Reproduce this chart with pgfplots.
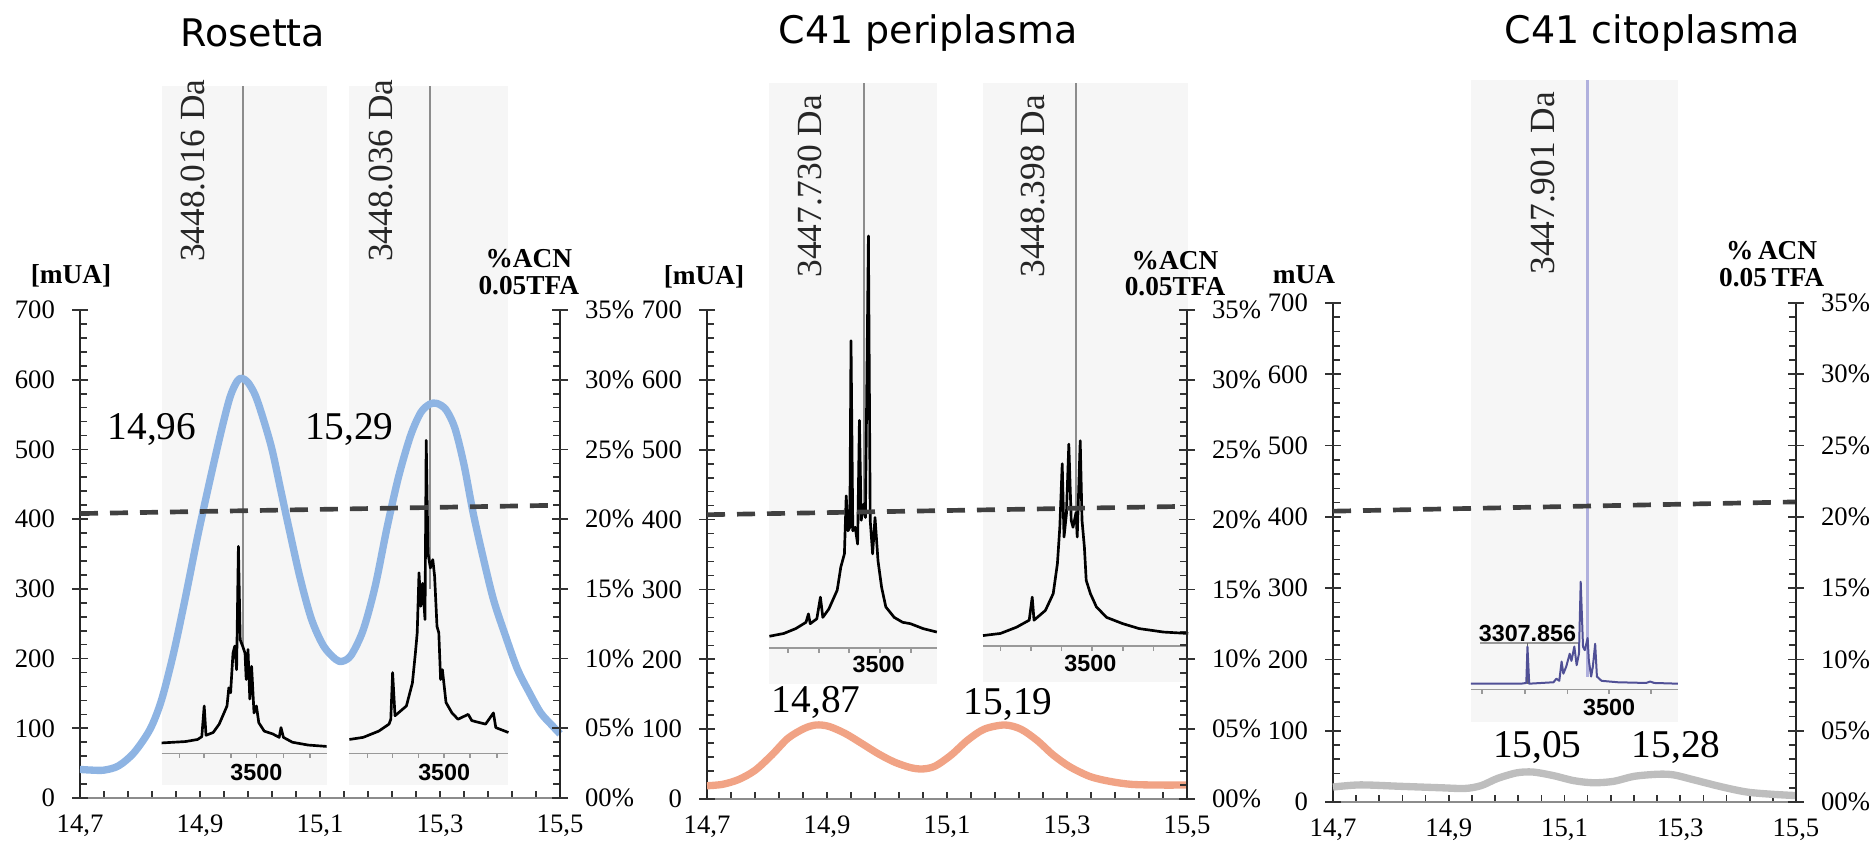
\documentclass[border=0pt]{standalone}
\usepackage{fontspec}
\setmainfont{Liberation Serif}
\newfontfamily\titlefont{DejaVu Sans}
\newfontfamily\sansb{Liberation Sans}
\usepackage{pgfplots}
\pgfplotsset{compat=1.18}

\definecolor{cblue}{RGB}{142,180,227}
\definecolor{corange}{RGB}{241,163,133}
\definecolor{cgray}{RGB}{190,190,190}
\definecolor{boxgray}{RGB}{246,246,246}
\definecolor{specblue}{RGB}{80,80,150}
\definecolor{mainlav}{RGB}{176,176,221}

\newcommand{\tickf}{\fontsize{8}{9}\selectfont}
\newcommand{\peakf}{\fontsize{11.8}{13}\selectfont}
\newcommand{\daf}{\fontsize{10.6}{12}\selectfont}
\newcommand{\unitf}{\bfseries\fontsize{8.2}{8}\selectfont}
\newcommand{\msf}{\sansb\bfseries\fontsize{7}{8}\selectfont}

\pgfplotsset{
  panel/.style={
    scale only axis, clip=false,
    xmin=14.7, xmax=15.5, ymin=0, ymax=700,
    axis x line*=bottom, axis y line*=left,
    xtick={14.7,14.9,15.1,15.3,15.5},
    xticklabels={{14,7},{14,9},{15,1},{15,3},{15,5}},
    minor x tick num=4,
    ytick={0,100,...,700},
    minor y tick num=4,
    tick align=inside,
    major tick length=2.2pt, minor tick length=2.2pt,
    extra y ticks={0,100,200,300,400,500,600,700},
    extra y tick labels={},
    extra y tick style={tick align=center, major tick length=4.7pt},
    x axis line style={black!45, line width=0.6pt},
    y axis line style={black!85, line width=0.6pt},
    tick style={black!80, line width=0.5pt},
    ticklabel style={font=\tickf},
    yticklabel style={xshift=-4pt},
    xticklabel style={yshift=-1.5pt},
    /pgf/number format/assume math mode=true,
    unbounded coords=jump,
  },
  rpanel/.style={
    scale only axis,
    xmin=14.7, xmax=15.5, ymin=0, ymax=35,
    axis y line*=right, axis x line=none,
    ytick={0,5,...,35},
    yticklabels={00\%,05\%,10\%,15\%,20\%,25\%,30\%,35\%},
    minor y tick num=4,
    tick align=inside,
    major tick length=2.2pt, minor tick length=2.2pt,
    extra y ticks={0,5,10,15,20,25,30,35},
    extra y tick labels={},
    extra y tick style={tick align=center, major tick length=4.7pt},
    y axis line style={black!85, line width=0.6pt},
    tick style={black!80, line width=0.5pt},
    ticklabel style={font=\tickf},
    yticklabel style={xshift=4pt},
  },
  spec/.style={black, line width=0.8pt, line join=round},
  mainpk/.style={black!45, line width=0.6pt},
  inax/.style={black!40, line width=0.5pt},
  curve/.style={line width=2.2pt, line join=round, smooth, tension=0.5},
  dash/.style={black!75, line width=1.4pt, dash pattern=on 5.4pt off 3.6pt},
}

\begin{document}
\begin{tikzpicture}
\path[use as bounding box] (0,0) rectangle (561.3pt,252.3pt);

\node[font=\titlefont\fontsize{11.4}{13}\selectfont] at (75.9pt,242.4pt) {Rosetta};
\node[font=\titlefont\fontsize{11.4}{13}\selectfont] at (278.4pt,242.4pt) {C41 periplasma};
\node[font=\titlefont\fontsize{11.4}{13}\selectfont] at (495.6pt,242.4pt) {C41 citoplasma};

% ---------------- panel 1: Rosetta ----------------
\begin{axis}[panel, at={(24pt,12.9pt)}, width=144pt, height=146.4pt]
\addplot[fill=boxgray, draw=none] coordinates {(14.836,18) (15.111,18) (15.111,1021) (14.836,1021)};
\addplot[fill=boxgray, draw=none] coordinates {(15.148,18) (15.414,18) (15.414,1021) (15.148,1021)};
% inset axes
\addplot[inax] coordinates {(14.836,64) (15.111,64) (15.111,nan)
  (14.866,64) (14.866,57) (14.866,nan) (14.907,64) (14.907,57) (14.907,nan)
  (14.952,64) (14.952,57) (14.952,nan) (14.994,64) (14.994,57) (14.994,nan)
  (15.039,64) (15.039,57) (15.039,nan) (15.083,64) (15.083,57)};
\addplot[inax] coordinates {(15.148,64) (15.414,64) (15.414,nan)
  (15.179,64) (15.179,57) (15.179,nan) (15.221,64) (15.221,57) (15.221,nan)
  (15.264,64) (15.264,57) (15.264,nan) (15.307,64) (15.307,57) (15.307,nan)
  (15.350,64) (15.350,57) (15.350,nan) (15.395,64) (15.395,57)};
% main peaks
\addplot[mainpk] coordinates {(14.971,1021) (14.971,218)};
\addplot[mainpk] coordinates {(15.284,1021) (15.284,300)};
% spectra
\addplot[spec] coordinates {
  (14.836,79) (14.876,81) (14.896,84) (14.903,88) (14.907,132) (14.910,90)
  (14.922,94) (14.932,106) (14.938,118) (14.945,132) (14.948,158) (14.951,151)
  (14.955,208) (14.958,218) (14.961,184) (14.964,361) (14.967,227) (14.971,218)
  (14.975,208) (14.977,170) (14.980,213) (14.983,142) (14.986,189) (14.990,122)
  (14.994,132) (14.998,108) (15.007,96) (15.021,92) (15.032,87) (15.035,101)
  (15.039,87) (15.054,80) (15.080,76) (15.111,74)};
\addplot[spec] coordinates {
  (15.149,84) (15.172,87) (15.198,96) (15.215,106) (15.218,113) (15.221,180)
  (15.225,118) (15.244,132) (15.254,165) (15.259,208) (15.262,237) (15.265,323)
  (15.268,275) (15.271,308) (15.275,256) (15.277,513) (15.280,351) (15.284,330)
  (15.288,342) (15.291,318) (15.295,246) (15.298,237) (15.301,170) (15.304,184)
  (15.310,137) (15.320,122) (15.330,113) (15.347,120) (15.353,111) (15.376,106)
  (15.389,122) (15.393,101) (15.414,94)};
% chromatogram
\addplot[curve, cblue] coordinates {
  (14.700,41) (14.720,40) (14.740,40) (14.764,46) (14.790,65) (14.817,99)
  (14.836,141) (14.856,208) (14.876,289) (14.896,375) (14.915,450) (14.935,525)
  (14.950,575) (14.962,598) (14.970,602) (14.980,596) (14.992,578) (15.005,545)
  (15.020,500) (15.035,440) (15.047,392) (15.067,315) (15.086,256) (15.106,218)
  (15.126,199) (15.137,196) (15.152,205) (15.172,241) (15.192,304) (15.212,389)
  (15.231,461) (15.251,520) (15.268,553) (15.283,565) (15.295,566) (15.310,557)
  (15.325,530) (15.340,478) (15.355,410) (15.370,352) (15.389,285) (15.409,233)
  (15.429,185) (15.449,151) (15.468,122) (15.488,103) (15.500,92)};
\addplot[dash] coordinates {(14.7,408) (15.5,420)};
% text
\node[rotate=90, font=\daf, text=black!85] at (axis cs:14.889,900) {3448.016 Da};
\node[rotate=90, font=\daf, text=black!85] at (axis cs:15.202,900) {3448.036 Da};
\node[font=\msf] at (axis cs:14.994,36) {3500};
\node[font=\msf] at (axis cs:15.307,36) {3500};
\node[font=\peakf] at (axis cs:14.82,528) {14,96};
\node[font=\peakf] at (axis cs:15.149,528) {15,29};
\node[font=\unitf] at (axis cs:14.685,749) {[mUA]};
\node[font=\unitf, align=center] at (axis cs:15.448,754) {\%ACN\\0.05TFA};
\end{axis}
\begin{axis}[rpanel, at={(24pt,12.9pt)}, width=144pt, height=146.4pt]
\end{axis}

% ---------------- panel 2: C41 periplasma ----------------
\begin{axis}[panel, at={(212.1pt,12.6pt)}, width=144pt, height=146.7pt]
\addplot[fill=boxgray, draw=none] coordinates {(14.804,165) (15.083,165) (15.083,1025) (14.804,1025)};
\addplot[fill=boxgray, draw=none] coordinates {(15.160,168) (15.502,168) (15.502,1025) (15.160,1025)};
\addplot[inax] coordinates {(14.804,216) (15.083,216) (15.083,nan)
  (14.835,216) (14.835,209) (14.835,nan) (14.887,216) (14.887,209) (14.887,nan)
  (14.937,216) (14.937,209) (14.937,nan) (14.988,216) (14.988,209) (14.988,nan)
  (15.040,216) (15.040,209)};
\addplot[inax] coordinates {(15.160,219) (15.502,219) (15.502,nan)
  (15.189,219) (15.189,212) (15.189,nan) (15.240,219) (15.240,212) (15.240,nan)
  (15.291,219) (15.291,212) (15.291,nan) (15.342,219) (15.342,212) (15.342,nan)
  (15.393,219) (15.393,212) (15.393,nan) (15.444,219) (15.444,212)};
\addplot[mainpk] coordinates {(14.962,1025) (14.962,420)};
\addplot[mainpk] coordinates {(15.315,1025) (15.315,400)};
\addplot[spec] coordinates {
  (14.804,233) (14.828,237) (14.848,244) (14.865,253) (14.869,265) (14.872,251)
  (14.883,258) (14.889,289) (14.893,260) (14.903,272) (14.917,299) (14.923,332)
  (14.929,351) (14.932,434) (14.935,384) (14.938,389) (14.940,656) (14.943,384)
  (14.947,389) (14.951,365) (14.954,542) (14.957,399) (14.961,422) (14.964,403)
  (14.969,806) (14.972,399) (14.976,351) (14.980,403) (14.985,341) (14.991,303)
  (14.998,275) (15.012,260) (15.026,253) (15.039,251) (15.060,244) (15.083,239)};
\addplot[spec] coordinates {
  (15.160,234) (15.189,237) (15.216,246) (15.237,256) (15.242,289) (15.245,256)
  (15.264,270) (15.277,294) (15.284,337) (15.288,389) (15.292,480) (15.295,375)
  (15.299,408) (15.303,508) (15.307,399) (15.310,389) (15.315,410) (15.317,375)
  (15.322,513) (15.325,399) (15.329,360) (15.332,313) (15.339,294) (15.349,275)
  (15.366,260) (15.393,251) (15.420,244) (15.461,239) (15.502,237)};
\addplot[curve, corange] coordinates {
  (14.700,19) (14.726,21) (14.753,28) (14.780,41) (14.808,63) (14.835,87)
  (14.862,101) (14.882,106) (14.903,104) (14.930,94) (14.957,80) (14.985,65)
  (15.012,53) (15.039,45) (15.059,43) (15.080,47) (15.107,63) (15.134,84)
  (15.162,100) (15.196,106) (15.223,100) (15.250,84) (15.277,63) (15.305,46)
  (15.339,32) (15.373,25) (15.407,21) (15.450,20) (15.500,20)};
\addplot[dash] coordinates {(14.7,407) (15.5,419)};
\node[rotate=90, font=\daf, text=black!85] at (axis cs:14.872,877) {3447.730 Da};
\node[rotate=90, font=\daf, text=black!85] at (axis cs:15.243,877) {3448.398 Da};
\node[font=\msf] at (axis cs:14.986,192) {3500};
\node[font=\msf] at (axis cs:15.339,194) {3500};
\node[font=\peakf] at (axis cs:14.882,138) {14,87};
\node[font=\peakf] at (axis cs:15.202,135) {15,19};
\node[font=\unitf] at (axis cs:14.695,747) {[mUA]};
\node[font=\unitf, align=center] at (axis cs:15.480,752) {\%ACN\\0.05TFA};
\end{axis}
\begin{axis}[rpanel, at={(212.1pt,12.6pt)}, width=144pt, height=146.7pt]
\end{axis}

% ---------------- panel 3: C41 citoplasma ----------------
\begin{axis}[panel, at={(399.9pt,11.7pt)}, width=138.9pt, height=149.7pt]
\addplot[fill=boxgray, draw=none] coordinates {(14.938,112) (15.296,112) (15.296,1013) (14.938,1013)};
\addplot[inax] coordinates {(14.938,158) (15.296,158) (15.296,nan)
  (14.958,158) (14.958,151) (14.958,nan) (15.032,158) (15.032,151) (15.032,nan)
  (15.105,158) (15.105,151) (15.105,nan) (15.177,158) (15.177,151) (15.177,nan)
  (15.249,158) (15.249,151)};
\addplot[inax] coordinates {(14.954,223) (15.123,223)};
\addplot[black!60, line width=0.5pt] coordinates {(15.036,166) (15.036,223)};
\addplot[mainlav, line width=0.9pt] coordinates {(15.140,1013) (15.140,176)};
\addplot[specblue, line width=0.6pt, line join=round] coordinates {
  (14.938,166) (15.025,166) (15.034,167) (15.036,218) (15.039,166) (15.081,168)
  (15.086,173) (15.091,170) (15.095,197) (15.098,180) (15.103,190) (15.109,208)
  (15.112,198) (15.117,218) (15.121,192) (15.125,208) (15.128,309) (15.132,218)
  (15.135,213) (15.140,230) (15.142,199) (15.146,176) (15.149,190) (15.153,222)
  (15.156,176) (15.164,170) (15.192,168) (15.241,167) (15.248,169) (15.255,167)
  (15.296,166)};
\addplot[curve, cgray] coordinates {
  (14.700,21) (14.747,24) (14.817,22) (14.886,20) (14.928,19) (14.956,23)
  (14.984,33) (15.018,41) (15.046,42) (15.081,37) (15.116,30) (15.150,27)
  (15.185,29) (15.220,36) (15.262,39) (15.289,38) (15.324,31) (15.373,21)
  (15.415,14) (15.456,11) (15.500,9)};
\addplot[dash] coordinates {(14.7,408) (15.5,421)};
\node[rotate=90, font=\daf, text=black!85] at (axis cs:15.063,868) {3447.901 Da};
\node[font=\msf] at (axis cs:15.036,236) {3307.856};
\node[font=\msf] at (axis cs:15.177,132) {3500};
\node[font=\peakf] at (axis cs:15.053,77) {15,05};
\node[font=\peakf] at (axis cs:15.293,77) {15,28};
\node[font=\unitf] at (axis cs:14.650,740) {mUA};
\node[font=\unitf, align=center] at (axis cs:15.458,755) {\%\,ACN\\0.05\,TFA};
\end{axis}
\begin{axis}[rpanel, at={(399.9pt,11.7pt)}, width=138.9pt, height=149.7pt]
\end{axis}
\end{tikzpicture}
\end{document}
